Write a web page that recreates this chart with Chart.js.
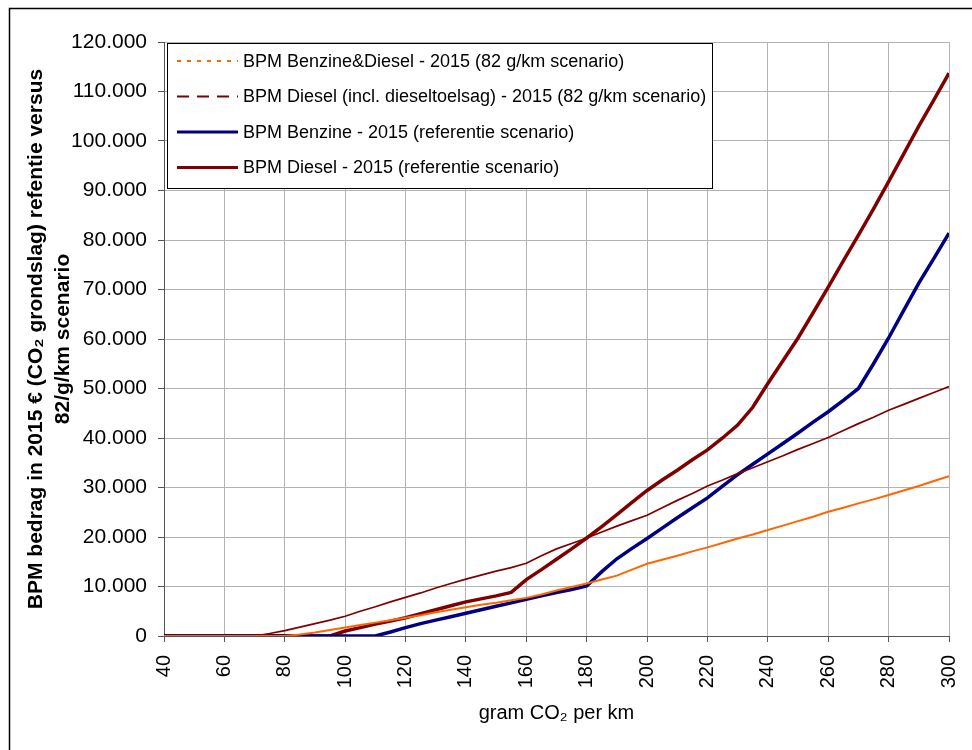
<!DOCTYPE html>
<html>
<head>
<meta charset="utf-8">
<script src="https://cdn.jsdelivr.net/npm/chart.js@4.4.1/dist/chart.umd.min.js"></script>
<style>
  html, body { margin: 0; padding: 0; background: #fff; }
  #wrap { width: 972px; height: 750px; }
</style>
</head>
<body>
<div id="wrap"><canvas id="bpmChart" width="972" height="750"></canvas></div>
<script>
// gram CO2 per km
const co2 = [40, 45, 50, 55, 60, 65, 70, 75, 80, 85, 90, 95, 100, 105, 110, 115, 120, 125, 130, 135,
  140, 145, 150, 155, 160, 165, 170, 175, 180, 185, 190, 195, 200, 205, 210, 215, 220, 225, 230, 235,
  240, 245, 250, 255, 260, 265, 270, 275, 280, 285, 290, 295, 300];

// BPM Benzine&Diesel - 2015 (82 g/km scenario)
const bpm82 = [0, 0, 0, 0, 0, 0, 0, 0, 0, 300, 700, 1200, 1700, 2200, 2700, 3200, 3700, 4200, 4800, 5300,
  5800, 6300, 6700, 7200, 7700, 8400, 9200, 9900, 10600, 11400, 12200, 13400, 14600, 15400, 16200, 17100, 17900, 18800, 19700, 20500,
  21400, 22300, 23200, 24100, 25100, 25900, 26800, 27600, 28500, 29400, 30300, 31300, 32300];

// BPM Diesel (incl. dieseltoelsag) - 2015 (82 g/km scenario)
const bpm82Diesel = [0, 0, 0, 0, 0, 0, 0, 500, 1100, 1800, 2500, 3200, 4000, 5000, 5900, 6900, 7800, 8700, 9700, 10600,
  11500, 12300, 13100, 13800, 14700, 16200, 17600, 18700, 19800, 21000, 22200, 23300, 24400, 25900, 27400, 28800, 30300, 31500, 32800, 34000,
  35200, 36400, 37700, 38900, 40100, 41500, 42900, 44200, 45600, 46800, 48000, 49200, 50400];

// BPM Benzine - 2015 (referentie scenario)
const bpmBenzineRef = [0, 0, 0, 0, 0, 0, 0, 0, 0, 0, 0, 0, 0, 0, 0, 800, 1700, 2500, 3200, 3900,
  4600, 5300, 6000, 6700, 7400, 8100, 8800, 9400, 10100, 13000, 15600, 17700, 19700, 21800, 23900, 25900, 27900, 30300, 32600, 34700,
  36800, 38900, 41000, 43200, 45300, 47600, 50000, 55000, 60200, 65800, 71300, 76300, 81400];

// BPM Diesel - 2015 (referentie scenario)
const bpmDieselRef = [0, 0, 0, 0, 0, 0, 0, 0, 0, 0, 0, 0, 1000, 1700, 2400, 3000, 3700, 4500, 5300, 6100,
  6900, 7500, 8100, 8800, 11400, 13400, 15500, 17600, 19800, 22100, 24500, 27000, 29400, 31500, 33500, 35600, 37600, 40000, 42600, 46200,
  51000, 55600, 60200, 65300, 70500, 75800, 81000, 86300, 91800, 97400, 103000, 108300, 113700];

const seriesLabels = [
  'BPM Benzine&Diesel - 2015 (82 g/km scenario)',
  'BPM Diesel (incl. dieseltoelsag) - 2015 (82 g/km scenario)',
  'BPM Benzine - 2015 (referentie scenario)',
  'BPM Diesel - 2015 (referentie scenario)'
];

const toPoints = (vals) => vals.map((v, i) => ({ x: co2[i], y: v }));

// legend box drawn inside the plot, Excel style
const boxLegend = {
  id: 'boxLegend',
  afterDraw(chart) {
    const ctx = chart.ctx;
    ctx.save();
    ctx.fillStyle = '#fff';
    ctx.fillRect(167.5, 43.5, 545, 145);
    ctx.strokeStyle = '#000';
    ctx.lineWidth = 1;
    ctx.strokeRect(167.5, 43.5, 545, 145);
    chart.data.datasets.forEach((ds, i) => {
      const y = 61 + i * 35.5;
      ctx.beginPath();
      ctx.strokeStyle = ds.borderColor;
      ctx.lineWidth = ds.legendWidth;
      ctx.setLineDash(ds.legendDash);
      ctx.moveTo(177, y);
      ctx.lineTo(238, y);
      ctx.stroke();
      ctx.setLineDash([]);
      ctx.fillStyle = '#000';
      ctx.font = '18px "Liberation Sans", Arial, sans-serif';
      ctx.textBaseline = 'middle';
      ctx.fillText(ds.label, 243, y + 1);
    });
    ctx.restore();
  }
};

const frame = {
  id: 'frame',
  beforeDraw(chart) {
    const ctx = chart.ctx;
    ctx.save();
    ctx.fillStyle = '#fff';
    ctx.fillRect(0, 0, chart.width, chart.height);
    ctx.strokeStyle = '#000';
    ctx.lineWidth = 1.5;
    ctx.beginPath();
    ctx.moveTo(9.5, chart.height);
    ctx.lineTo(9.5, 8.5);
    ctx.lineTo(chart.width, 8.5);
    ctx.stroke();
    ctx.restore();
  }
};

const ctx = document.getElementById('bpmChart').getContext('2d');
new Chart(ctx, {
  type: 'line',
  data: {
    datasets: [{
      label: seriesLabels[0],
      data: toPoints(bpm82),
      borderColor: '#ff6600',
      borderWidth: 2,
      legendWidth: 2,
      legendDash: [4, 6],
    }, {
      label: seriesLabels[1],
      data: toPoints(bpm82Diesel),
      borderColor: '#800000',
      borderWidth: 1.7,
      legendWidth: 2,
      legendDash: [12, 8],
    }, {
      label: seriesLabels[2],
      data: toPoints(bpmBenzineRef),
      borderColor: '#000080',
      borderWidth: 3.5,
      legendWidth: 3,
      legendDash: [],
    }, {
      label: seriesLabels[3],
      data: toPoints(bpmDieselRef),
      borderColor: '#800000',
      borderWidth: 3.5,
      legendWidth: 3,
      legendDash: [],
    }],
  },
  options: {
    responsive: false,
    animation: false,
    elements: { point: { radius: 0 }, line: { tension: 0, fill: false } },
    layout: { padding: { top: 42, right: 23, left: 0, bottom: 0 } },
    plugins: { legend: { display: false }, tooltip: { enabled: false } },
    scales: {
      x: {
        type: 'linear',
        min: 40,
        max: 300,
        afterFit: (scale) => {
          scale.height = 114;
          scale.paddingLeft = 0;
          scale.paddingRight = 0;
        },
        ticks: {
          stepSize: 20,
          minRotation: 90,
          maxRotation: 90,
          padding: 13,
          color: '#000',
          font: { family: '"Liberation Sans", Arial, sans-serif', size: 20 },
        },
        grid: { color: '#b3b3b3', tickColor: '#555', tickLength: 6 },
        border: { color: '#555' },
        title: {
          display: true,
          text: 'gram CO₂ per km',
          color: '#000',
          font: { family: '"Liberation Sans", Arial, sans-serif', size: 20, lineHeight: 1.2 },
          padding: { top: 0, bottom: 25 },
        },
      },
      y: {
        min: 0,
        max: 120000,
        afterFit: (scale) => { scale.width = 164; },
        ticks: {
          stepSize: 10000,
          padding: 11,
          color: '#000',
          font: { family: '"Liberation Sans", Arial, sans-serif', size: 21 },
          callback: (v) => v.toString().replace(/\B(?=(\d{3})+(?!\d))/g, '.'),
        },
        grid: { color: '#b3b3b3', tickColor: '#555', tickLength: 6 },
        border: { color: '#555' },
        title: {
          display: true,
          text: ['BPM bedrag in 2015 € (CO₂ grondslag) refentie versus', '82/g/km scenario'],
          color: '#000',
          font: { family: '"Liberation Sans", Arial, sans-serif', size: 21, weight: 'bold', lineHeight: '27px' },
          padding: { top: 23, bottom: 0 },
        },
      },
    },
  },
  plugins: [frame, boxLegend],
});
</script>
</body>
</html>
